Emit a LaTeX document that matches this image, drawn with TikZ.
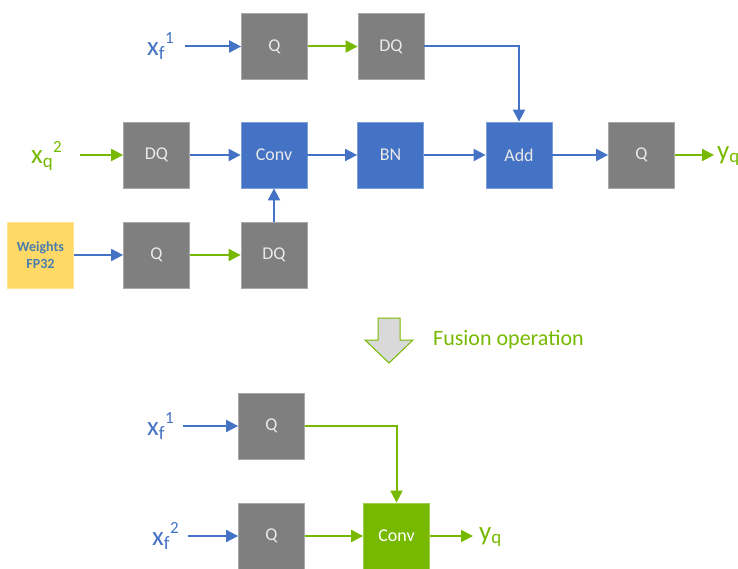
\documentclass[tikz,border=0pt]{standalone}
\usepackage{fontspec}
\setmainfont{Carlito}
\usetikzlibrary{arrows.meta}
\definecolor{gbox}{HTML}{7F7F7F}
\definecolor{gedge}{HTML}{A9A9A9}
\definecolor{bbox}{HTML}{4472C4}
\definecolor{bedge}{HTML}{7F9FDA}
\definecolor{ngreen}{HTML}{76B900}
\definecolor{ybox}{HTML}{FFD966}
\definecolor{wtxt}{HTML}{4A7DB0}
\definecolor{btxt}{HTML}{EAEAEA}
\begin{document}
\begin{tikzpicture}[x=1pt,y=-1pt,
  blk/.style={minimum width=66pt,minimum height=66pt,inner sep=0pt,line width=0.8pt,
    text=btxt,font=\fontsize{18}{18}\selectfont},
  gq/.style={blk,fill=gbox,draw=gedge},
  bq/.style={blk,fill=bbox,draw=bedge},
  grq/.style={blk,fill=ngreen,draw=ngreen!70!white,text=white},
  yq/.style={blk,fill=ybox,draw=ybox!70!white,text=wtxt,
    font=\fontsize{14}{17}\selectfont\bfseries,align=center},
  lab/.style={inner sep=0pt,font=\fontsize{27}{27}\selectfont},
  ba/.style={draw=bbox,line width=2pt,-{Triangle[length=12pt,width=12pt]}},
  ga/.style={draw=ngreen,line width=2pt,-{Triangle[length=12pt,width=12pt]}}]
\useasboundingbox (0,0) rectangle (738,569);
% top row
\node[gq] (q1) at (274.5,46.5) {Q};
\node[gq] (dq1) at (391,46.5) {DQ};
% middle row
\node[gq] (dq2) at (156.5,155) {DQ};
\node[bq] (conv) at (274,155) {Conv};
\node[bq] (bn) at (390.5,155) {BN};
\node[bq] (add) at (519,155) {Add};
\node[gq] (q2) at (641.5,155) {Q};
% weights row
\node[yq] (w) at (40.5,255) {Weights\\FP32};
\node[gq] (q3) at (156.5,255) {Q};
\node[gq] (dq3) at (274,255) {DQ};
% labels top
\node[lab,text=bbox,anchor=east] (xf1) at (174,46) {x\textsubscript{f}\raisebox{0.9ex}{\fontsize{17}{17}\selectfont 1}};
\node[lab,text=ngreen,anchor=east] (xq2) at (62,156) {x\textsubscript{q}\raisebox{0.9ex}{\fontsize{17}{17}\selectfont 2}};
\node[lab,text=ngreen,anchor=west] (yq1) at (717,156) {y\textsubscript{q}};
% arrows top
\draw[ba] ([xshift=11pt]xf1.east |- q1) -- (q1);
\draw[ga] (q1) -- (dq1);
\draw[ba] (dq1.east) -| (add.north);
\draw[ga] ([xshift=18pt]xq2.east |- dq2) -- (dq2);
\draw[ba] (dq2) -- (conv);
\draw[ba] (conv) -- (bn);
\draw[ba] (bn) -- (add);
\draw[ba] (add) -- (q2);
\draw[ga] (q2) -- ([xshift=-3pt]yq1.west |- q2);
\draw[ba] (w) -- (q3);
\draw[ga] (q3) -- (dq3);
\draw[ba] (dq3) -- (conv);
% fusion arrow
\draw[ngreen,line width=1pt,fill=black!15] (378,318) -- (400,318) -- (400,340) -- (413,340) -- (389,363) -- (365,340) -- (378,340) -- cycle;
\node[inner sep=0pt,anchor=west,text=ngreen,font=\fontsize{22}{22}\selectfont] (fus) at (433,340) {Fusion operation};
% bottom
\node[gq] (q4) at (271.5,426) {Q};
\node[gq] (q5) at (271.5,536) {Q};
\node[grq] (conv2) at (396.5,536) {Conv};
\node[lab,text=bbox,anchor=east] (xf1b) at (174,426) {x\textsubscript{f}\raisebox{0.9ex}{\fontsize{17}{17}\selectfont 1}};
\node[lab,text=bbox,anchor=east] (xf2b) at (179,536) {x\textsubscript{f}\raisebox{0.9ex}{\fontsize{17}{17}\selectfont 2}};
\node[lab,text=ngreen,anchor=west] (yq2) at (479,537) {y\textsubscript{q}};
\draw[ba] ([xshift=9pt]xf1b.east |- q4) -- (q4);
\draw[ba] ([xshift=9pt]xf2b.east |- q5) -- (q5);
\draw[ga] (q4.east) -| (conv2.north);
\draw[ga] (q5) -- (conv2);
\draw[ga] (conv2) -- ([xshift=-6pt]yq2.west |- conv2);
\end{tikzpicture}
\end{document}
